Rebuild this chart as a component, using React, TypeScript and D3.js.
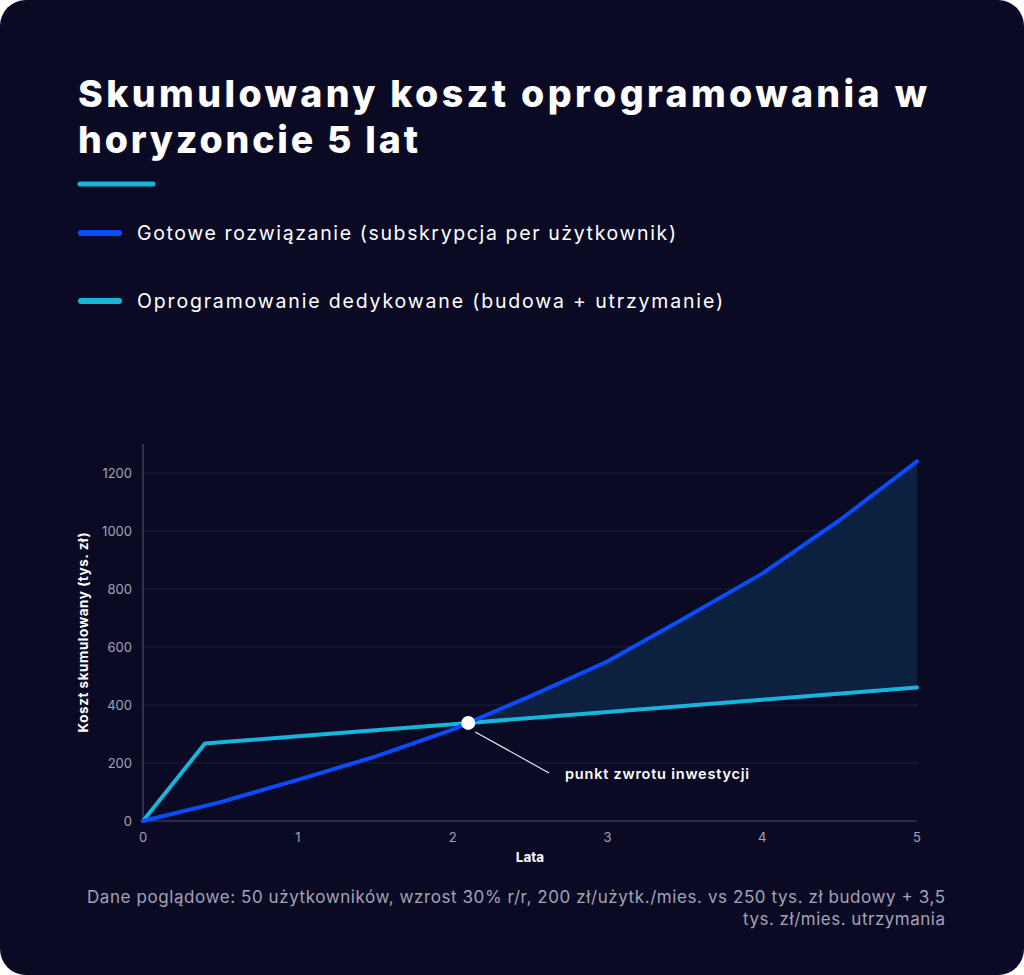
import { useMemo } from "react";
import * as d3 from "d3";

const width = 1024;
const height = 975;

// Lata (co pół roku)
const years = [0, 0.5, 1, 1.5, 2, 2.5, 3, 3.5, 4, 4.5, 5];
// Gotowe rozwiązanie (tys. zł, skumulowane)
const subscription = [0, 65, 142, 222, 315, 430, 550, 700, 853, 1037, 1240];
// Oprogramowanie dedykowane: budowa do 0.4 roku, potem utrzymanie
const customYears = [0, 0.4, 1, 2, 3, 4, 5];
const customCost = [0, 267, 292, 334, 376, 418, 460];

const yTicks = [0, 200, 400, 600, 800, 1000, 1200];
const xTicks = [0, 1, 2, 3, 4, 5];

const legendLabels = [
  "Gotowe rozwiązanie (subskrypcja per użytkownik)",
  "Oprogramowanie dedykowane (budowa + utrzymanie)",
];
const legendWidths = [539, 586];

const COLORS = {
  bg: "#0b0a24",
  blue: "#0a4dff",
  cyan: "#17b4dc",
  fill: "#0c2140",
  grid: "#1f1f3b",
  axis: "#4a4a62",
  tick: "#a3a3b4",
};

const margin = { left: 143, right: 107, top: 444, bottom: 154 };

const App = () => {
  const x = d3.scaleLinear().domain([0, 5]).range([margin.left, width - margin.right]);
  const y = d3.scaleLinear().domain([0, 1300]).range([height - margin.bottom, margin.top]);

  const subData = years.map((yr, i) => ({ x: yr, v: subscription[i] }));
  const customData = customYears.map((yr, i) => ({ x: yr, v: customCost[i] }));

  const customAt = (t: number) => d3.scaleLinear().domain(customYears).range(customCost)(t);
  const subAt = (t: number) => d3.scaleLinear().domain(years).range(subscription)(t);

  // punkt przecięcia
  const cross = useMemo(() => {
    for (let i = 1; i < years.length; i++) {
      const a = years[i - 1], b = years[i];
      const da = subAt(a) - customAt(a);
      const db = subAt(b) - customAt(b);
      if (i > 1 && da < 0 && db >= 0) {
        const t = a + (b - a) * (-da / (db - da));
        return { x: t, v: subAt(t) };
      }
    }
    return { x: 2.1, v: 338 };
  }, []);

  const line = d3
    .line<{ x: number; v: number }>()
    .x((d) => x(d.x))
    .y((d) => y(d.v));

  // obszar oszczędności za punktem zwrotu
  const areaXs = [cross.x, ...Array.from(new Set([...years, ...customYears])).filter((t) => t > cross.x).sort((a, b) => a - b)];
  const area = d3
    .area<number>()
    .x((t) => x(t))
    .y0((t) => y(customAt(t)))
    .y1((t) => y(subAt(t)))(areaXs);

  const cx = x(cross.x);
  const cy = y(cross.v);
  const font = "Inter, 'Open Sans', sans-serif";

  return (
    <svg
      width={width}
      height={height}
      style={{ position: "absolute", left: 0, top: 0, background: "#ffffff" }}
      fontFamily={font}
    >
      <rect x={0} y={0} width={width} height={height} rx={26} fill={COLORS.bg} />

      <text x={78} y={107} fill="#ffffff" fontSize={37.5} fontWeight={800} textLength={849} lengthAdjust="spacing">
        Skumulowany koszt oprogramowania w
      </text>
      <text x={78} y={153} fill="#ffffff" fontSize={37.5} fontWeight={800} textLength={340} lengthAdjust="spacing">
        horyzoncie 5 lat
      </text>
      <line x1={80} x2={153} y1={184} y2={184} stroke={COLORS.cyan} strokeWidth={5} strokeLinecap="round" />

      {legendLabels.map((label, i) => (
        <g key={label} transform={`translate(0,${233 + i * 68})`}>
          <line x1={81} x2={119} y1={0} y2={0} stroke={i === 0 ? COLORS.blue : COLORS.cyan} strokeWidth={6} strokeLinecap="round" />
          <text x={137} y={7} fill="#ffffff" fontSize={19.5} textLength={legendWidths[i]} lengthAdjust="spacing">
            {label}
          </text>
        </g>
      ))}

      {yTicks.map((t) => (
        <g key={t}>
          {t > 0 && (
            <line x1={margin.left} x2={x(5)} y1={y(t)} y2={y(t)} stroke={COLORS.grid} strokeWidth={1} />
          )}
          <text x={132} y={y(t) + 4.5} textAnchor="end" fill={COLORS.tick} fontSize={13}>
            {t}
          </text>
        </g>
      ))}
      <line x1={margin.left} x2={margin.left} y1={margin.top} y2={y(0)} stroke={COLORS.axis} strokeWidth={1.2} />
      <line x1={margin.left} x2={x(5)} y1={y(0)} y2={y(0)} stroke={COLORS.axis} strokeWidth={1.2} />

      {xTicks.map((t) => (
        <text key={t} x={x(t)} y={842} textAnchor="middle" fill={COLORS.tick} fontSize={13}>
          {t}
        </text>
      ))}
      <text x={(x(0) + x(5)) / 2} y={862} textAnchor="middle" fill="#ffffff" fontSize={13.5} fontWeight={700}>
        Lata
      </text>
      <text
        transform={`translate(88,${(y(0) + margin.top) / 2}) rotate(-90)`}
        textAnchor="middle"
        fill="#ffffff"
        fontSize={13.5}
        fontWeight={700}
        textLength={200}
        lengthAdjust="spacing"
      >
        Koszt skumulowany (tys. zł)
      </text>

      <path d={area ?? ""} fill={COLORS.fill} />
      <path d={line(customData) ?? ""} fill="none" stroke={COLORS.cyan} strokeWidth={4} strokeLinejoin="round" strokeLinecap="round" />
      <path d={line(subData) ?? ""} fill="none" stroke={COLORS.blue} strokeWidth={4} strokeLinejoin="round" strokeLinecap="round" />

      <line x1={cx + 7} y1={cy + 9} x2={549} y2={773} stroke="#e8e8ee" strokeWidth={1.2} />
      <circle cx={cx} cy={cy} r={7} fill="#ffffff" />
      <text x={565} y={779} fill="#ffffff" fontSize={14.5} fontWeight={600} textLength={184} lengthAdjust="spacing">
        punkt zwrotu inwestycji
      </text>

      <text x={87} y={903} fill={COLORS.tick} fontSize={17} textLength={858} lengthAdjust="spacing">
        Dane poglądowe: 50 użytkowników, wzrost 30% r/r, 200 zł/użytk./mies. vs 250 tys. zł budowy + 3,5
      </text>
      <text x={743} y={925} fill={COLORS.tick} fontSize={17} textLength={202} lengthAdjust="spacing">
        tys. zł/mies. utrzymania
      </text>
    </svg>
  );
};

export default App;
